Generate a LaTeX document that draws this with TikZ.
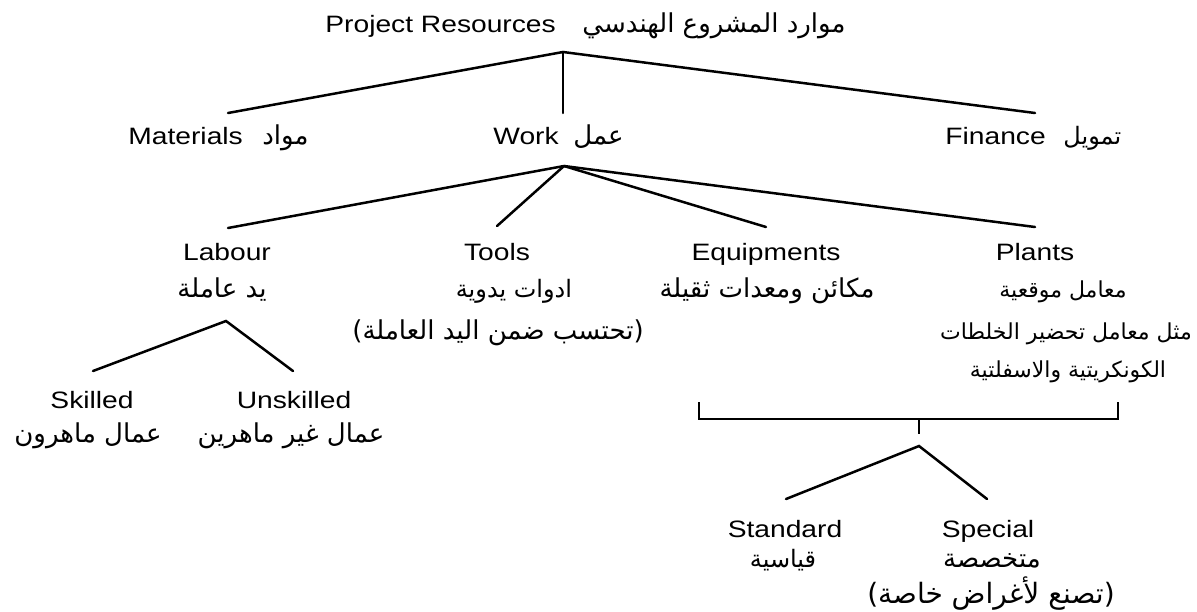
\documentclass[tikz,border=0pt]{standalone}
\usepackage{fontspec}
\setmainfont{Liberation Sans}[FakeStretch=1.19]
\newfontfamily\arabicfont[Script=Arabic]{DejaVu Sans}
\TeXXeTstate=1
\newcommand{\artxt}[1]{{\arabicfont\beginR #1\endR}}
\begin{document}
\begin{tikzpicture}[x=0.5pt,y=-0.5pt,
  en/.style={font=\fontsize{11.85}{14}\selectfont, inner sep=0pt, anchor=base},
  ar/.style={font=\fontsize{13}{16}\selectfont, inner sep=0pt, anchor=base},
  arsmall/.style={font=\fontsize{11}{14}\selectfont, inner sep=0pt, anchor=base},
  armid/.style={font=\fontsize{12}{14}\selectfont, inner sep=0pt, anchor=base},
  arbig/.style={font=\fontsize{14}{16}\selectfont, inner sep=0pt, anchor=base},
  conn/.style={line width=1.25pt, line cap=round, line join=miter}]
\useasboundingbox (0,0) rectangle (1197,611);

% level 0
\node[en, anchor=base west] (root) at (325,32) {Project Resources};
\node[ar, anchor=base west] (rootar) at (582,32) {\artxt{موارد المشروع الهندسي}};

% level 1
\node[en, anchor=base west] (mat) at (128,144) {Materials};
\node[ar, anchor=base west] (matar) at (262,144) {\artxt{مواد}};
\node[en, anchor=base west] (work) at (493,144) {Work};
\node[ar, anchor=base west] (workar) at (573,144) {\artxt{عمل}};
\node[en, anchor=base west] (fin) at (945,144) {Finance};
\node[armid, anchor=base west] (finar) at (1063,144) {\artxt{تمويل}};

\coordinate (j0) at (563,52);
\coordinate (emat) at (228,113);
\coordinate (ework) at (563,113);
\coordinate (efin) at (1035,113);
\draw[conn] (emat) -- (j0) -- (efin);
\draw[conn] (j0) -- (ework);

% level 2
\node[en] (lab) at (227,260) {Labour};
\node[ar] (labar) at (222,297) {\artxt{يد عاملة}};
\node[en] (tools) at (497,260) {Tools};
\node[armid] (toolsar) at (514,297) {\artxt{ادوات يدوية}};
\node[ar] (toolsar2) at (498,339) {\artxt{(تحتسب ضمن اليد العاملة)}};
\node[en] (equ) at (766,260) {Equipments};
\node[ar] (equar) at (767,297) {\artxt{مكائن ومعدات ثقيلة}};
\node[en] (pla) at (1035,260) {Plants};
\node[arsmall] (plaar) at (1063,297) {\artxt{معامل موقعية}};
\node[arsmall] (plaar2) at (1066,339) {\artxt{مثل معامل تحضير الخلطات}};
\node[arsmall] (plaar3) at (1068,377) {\artxt{الكونكريتية والاسفلتية}};

\coordinate (j1) at (564,166);
\coordinate (elab) at (228,228);
\coordinate (etools) at (497,226);
\coordinate (eequ) at (766,227);
\coordinate (epla) at (1035,227);
\draw[conn] (j1) -- (elab);
\draw[conn] (j1) -- (etools);
\draw[conn] (j1) -- (eequ);
\draw[conn] (j1) -- (epla);

% labour split
\node[en] (sk) at (92,408) {Skilled};
\node[ar] (skar) at (88,442) {\artxt{عمال ماهرون}};
\node[en] (unsk) at (294,408) {Unskilled};
\node[ar] (unskar) at (291,442) {\artxt{عمال غير ماهرين}};
\coordinate (j2) at (226,321);
\coordinate (esk) at (93,371);
\coordinate (eunsk) at (293,371);
\draw[conn] (esk) -- (j2) -- (eunsk);

% bracket for equipments and plants
\coordinate (bl) at (699,402);
\coordinate (br) at (1118,402);
\coordinate (bm) at (919,419);
\coordinate (bs) at (919,434);
\draw[conn, line cap=butt] (bl) -- (bl |- bm) -- (br |- bm) -- (br);
\draw[conn, line cap=butt] (bm) -- (bs);

% standard / special
\node[en] (std) at (785,537) {Standard};
\node[armid] (stdar) at (783,567) {\artxt{قياسية}};
\node[en] (spe) at (988,537) {Special};
\node[ar] (spear) at (992,567) {\artxt{متخصصة}};
\node[arbig] (spear2) at (991,603) {\artxt{(تصنع لأغراض خاصة)}};
\coordinate (j3) at (919,446);
\coordinate (estd) at (786,499);
\coordinate (espe) at (987,499);
\draw[conn] (estd) -- (j3) -- (espe);
\end{tikzpicture}
\end{document}
